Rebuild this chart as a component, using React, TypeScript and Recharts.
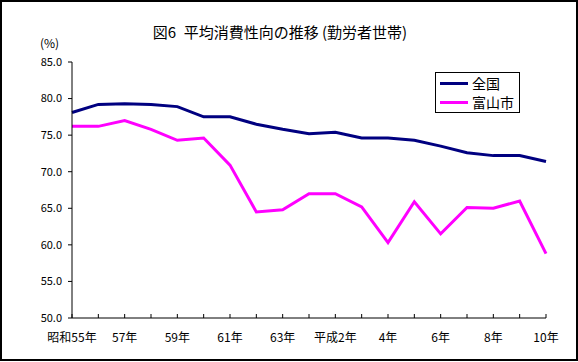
import { LineChart, Line, XAxis, YAxis, Legend } from "recharts";

// 昭和55年〜平成10年
const years = [
  "昭和55年", "56年", "57年", "58年", "59年", "60年", "61年", "62年", "63年",
  "平成元年", "平成2年", "3年", "4年", "5年", "6年", "7年", "8年", "9年", "10年",
];
const national = [78.1, 79.2, 79.3, 79.2, 78.9, 77.5, 77.5, 76.5, 75.8, 75.2, 75.4, 74.6, 74.6, 74.3, 73.5, 72.6, 72.2, 72.2, 71.4];
const toyama = [76.2, 76.2, 77.0, 75.8, 74.3, 74.6, 70.9, 64.5, 64.8, 67.0, 67.0, 65.2, 60.3, 65.9, 61.5, 65.1, 65.0, 66.0, 58.8];
const yTicks = [50, 55, 60, 65, 70, 75, 80, 85];

const data = years.map((year, i) => ({ year, national: national[i], toyama: toyama[i] }));

const FONT = "'Noto Sans CJK JP', sans-serif";

// tick marks point up into the plot, labels only on every other year
const XTick = (props: any) => {
  const { x, y, payload, index } = props;
  return (
    <g>
      <line x1={x} x2={x} y1={y} y2={y - 4} stroke="#000" />
      {index % 2 === 0 && (
        <text x={x} y={y + 24} textAnchor="middle" fontSize={12} fill="#000">
          {payload.value}
        </text>
      )}
    </g>
  );
};

const LegendBox = (props: any) => (
  <div style={{ paddingTop: 1, paddingLeft: 4 }}>
    {props.payload.map((p: any) => (
      <div key={p.value} style={{ display: "flex", alignItems: "center", height: 19 }}>
        <span style={{ display: "inline-block", width: 28, height: 3, background: p.color }} />
        <span style={{ marginLeft: 4, fontSize: 14, lineHeight: "19px", color: "#000" }}>{p.value}</span>
      </div>
    ))}
  </div>
);

export default function App() {
  return (
    <div
      style={{
        position: "absolute",
        left: 0,
        top: 0,
        width: 578,
        height: 362,
        background: "#fff",
        fontFamily: FONT,
      }}
    >
      <div
        style={{
          position: "absolute",
          left: 0,
          top: 0,
          width: 578,
          height: 361,
          border: "2px solid #000",
          boxSizing: "border-box",
          pointerEvents: "none",
          zIndex: 2,
        }}
      />
      <div style={{ position: "absolute", left: 0, top: 23, width: 560, textAlign: "center", fontSize: 15, lineHeight: "17px", whiteSpace: "pre" }}>
        {"図6\u2002平均消費性向の推移 (勤労者世帯)"}
      </div>
      <div style={{ position: "absolute", left: 40, top: 35, fontSize: 12, lineHeight: "16px" }}>(%)</div>
      <LineChart width={578} height={362} data={data} margin={{ top: 62, right: 32, left: 0, bottom: 0 }}>
        <XAxis
          dataKey="year"
          interval={0}
          height={44}
          tickSize={0}
          tickMargin={0}
          tickLine={false}
          axisLine={{ stroke: "#000" }}
          tick={<XTick />}
        />
        <XAxis xAxisId="top" orientation="top" dataKey="year" height={0} tick={false} tickLine={false} axisLine={{ stroke: "#000" }} />
        <YAxis
          domain={[50, 85]}
          ticks={yTicks}
          width={72}
          tickSize={4}
          tickMargin={6}
          tickFormatter={(v: number) => v.toFixed(1)}
          tick={{ fontSize: 11, fill: "#000" }}
          axisLine={{ stroke: "#000" }}
          tickLine={{ stroke: "#000" }}
        />
        <YAxis yAxisId="right" orientation="right" domain={[50, 85]} width={0} tick={false} tickLine={false} axisLine={{ stroke: "#000" }} />
        <Legend
          layout="vertical"
          align="center"
          verticalAlign="middle"
          content={<LegendBox />}
          wrapperStyle={{
            left: 435,
            top: 72,
            width: 85,
            height: 41,
            border: "1px solid #000",
            background: "#fff",
            boxSizing: "border-box",
          }}
        />
        <Line type="linear" dataKey="national" name="全国" stroke="#000080" strokeWidth={3} dot={false} isAnimationActive={false} />
        <Line type="linear" dataKey="toyama" name="富山市" stroke="#FF00FF" strokeWidth={3} dot={false} isAnimationActive={false} />
      </LineChart>
    </div>
  );
}
